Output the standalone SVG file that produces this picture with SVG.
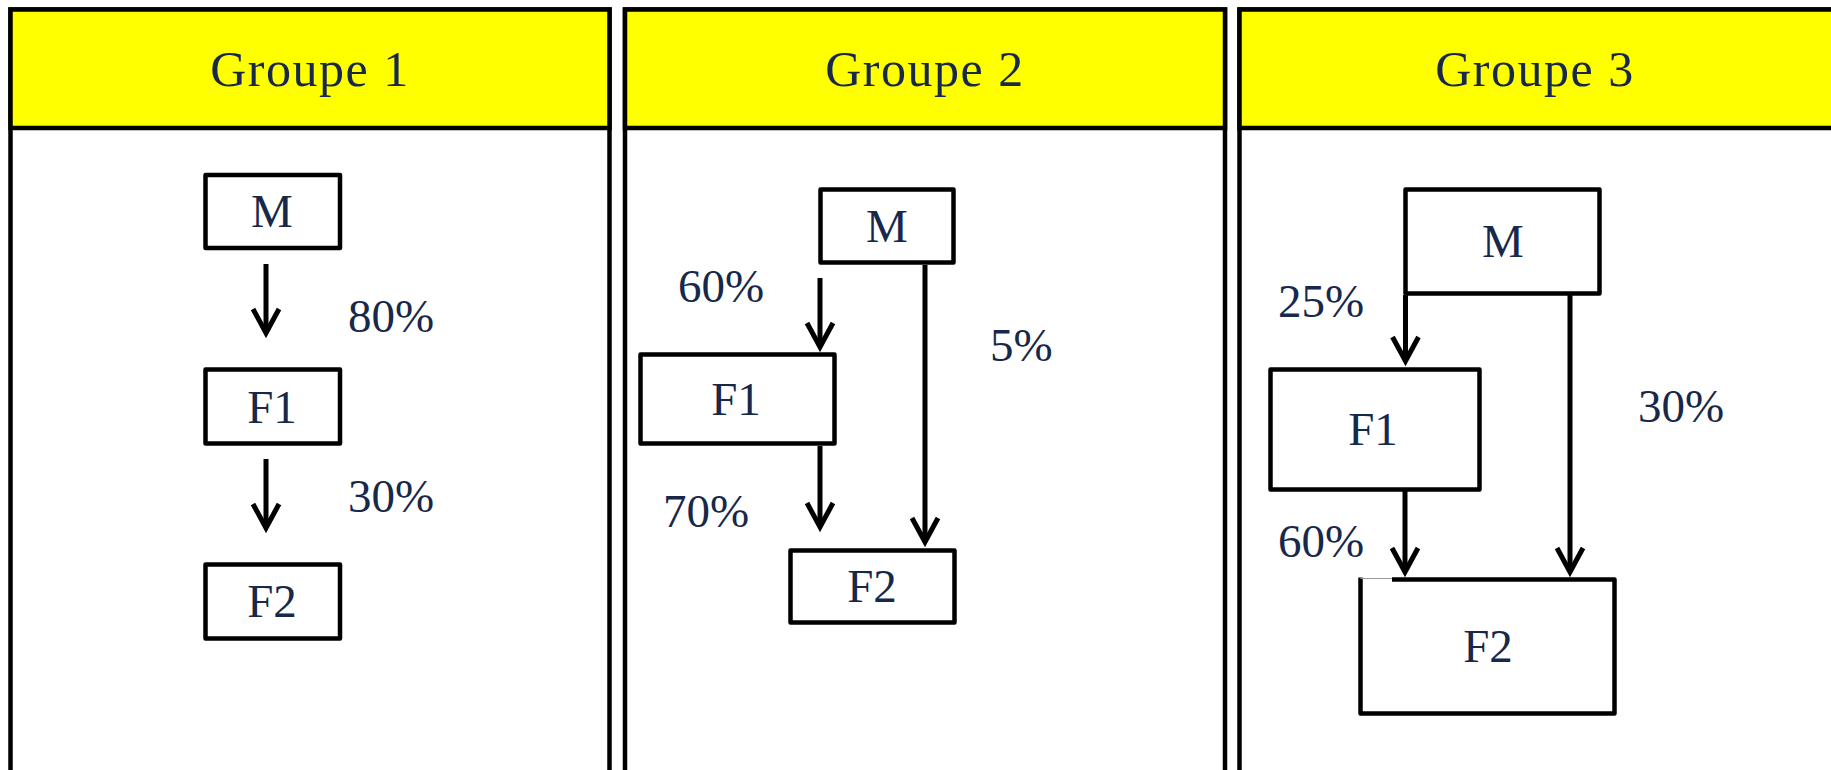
<svg xmlns="http://www.w3.org/2000/svg" width="1831" height="770" viewBox="0 0 1831 770">
<style>
.panel{fill:#fff;stroke:#000;stroke-width:4.5}
.head{fill:#ffff00;stroke:#000;stroke-width:4.5}
.box{fill:#fff;stroke:#000;stroke-width:4.5;stroke-linejoin:round}
.t{font-family:"Liberation Serif",serif;fill:#17284a;text-anchor:middle}
.h{font-size:50px;letter-spacing:1.5px}
.n{font-size:47px}
.l{font-size:47px;text-anchor:start}
.c{fill:none;stroke:#000;stroke-width:5}
</style>
<defs>
<marker id="ah" markerUnits="userSpaceOnUse" orient="auto" refX="0" refY="0" markerWidth="40" markerHeight="40" overflow="visible">
<path d="M-24,-13 L0,0 L-24,13" fill="none" stroke="#000" stroke-width="5" stroke-linejoin="miter"/>
</marker>
</defs>
<rect width="1831" height="770" fill="#fff"/>
<g id="panel1">
<rect class="panel" x="10.5" y="9.5" width="599" height="800"/>
<rect class="head" x="10.5" y="9.5" width="599" height="118.5"/>
<text class="t h" x="310" y="86">Groupe 1</text>
</g>
<g id="panel2">
<rect class="panel" x="625" y="9.5" width="600" height="800"/>
<rect class="head" x="625" y="9.5" width="600" height="118.5"/>
<text class="t h" x="925" y="86">Groupe 2</text>
</g>
<g id="panel3">
<rect class="panel" x="1239.5" y="9.5" width="620" height="800"/>
<rect class="head" x="1239.5" y="9.5" width="620" height="118.5"/>
<text class="t h" x="1535" y="86">Groupe 3</text>
</g>
<g id="g1-M"><rect class="box" x="205.5" y="175" width="134.5" height="73"/><text class="t n" x="272" y="227">M</text></g>
<g id="g1-F1"><rect class="box" x="205.5" y="369.5" width="134.5" height="74"/><text class="t n" x="272" y="423">F1</text></g>
<g id="g1-F2"><rect class="box" x="205.5" y="564.5" width="134.5" height="74"/><text class="t n" x="272" y="617">F2</text></g>
<g id="g2-M"><rect class="box" x="820.5" y="189.5" width="133" height="73"/><text class="t n" x="887" y="242">M</text></g>
<g id="g2-F1"><rect class="box" x="640.5" y="354.5" width="194" height="89"/><text class="t n" x="736" y="415">F1</text></g>
<g id="g2-F2"><rect class="box" x="790.5" y="550.5" width="164" height="72"/><text class="t n" x="872" y="602">F2</text></g>
<g id="g3-M"><rect class="box" x="1405.5" y="189.5" width="194" height="104"/><text class="t n" x="1503" y="257">M</text></g>
<g id="g3-F1"><rect class="box" x="1270.5" y="369.5" width="209" height="120"/><text class="t n" x="1373" y="445">F1</text></g>
<g id="g3-F2"><path class="box" d="M1392,579.5 H1614.5 V713.5 H1360.5 V577.5"/><line x1="1360.5" y1="578.5" x2="1392" y2="578.5" stroke="#999" stroke-width="1"/><text class="t n" x="1488" y="662">F2</text></g>
<g id="connectors">
<path class="c" d="M266,264 V333" marker-end="url(#ah)"/>
<path class="c" d="M266,459 V528" marker-end="url(#ah)"/>
<path class="c" d="M820,278 V347" marker-end="url(#ah)"/>
<path class="c" d="M925,265 V542" marker-end="url(#ah)"/>
<path class="c" d="M820,446 V527" marker-end="url(#ah)"/>
<path class="c" d="M1405.5,295 V361" marker-end="url(#ah)"/>
<path class="c" d="M1570,295 V572" marker-end="url(#ah)"/>
<path class="c" d="M1405,491 V572" marker-end="url(#ah)"/>
</g>
<g id="labels">
<text class="t l" x="348" y="332">80%</text>
<text class="t l" x="348" y="512">30%</text>
<text class="t l" x="678" y="302">60%</text>
<text class="t l" x="990" y="361">5%</text>
<text class="t l" x="663" y="527">70%</text>
<text class="t l" x="1278" y="317">25%</text>
<text class="t l" x="1638" y="422">30%</text>
<text class="t l" x="1278" y="557">60%</text>
</g>
</svg>
